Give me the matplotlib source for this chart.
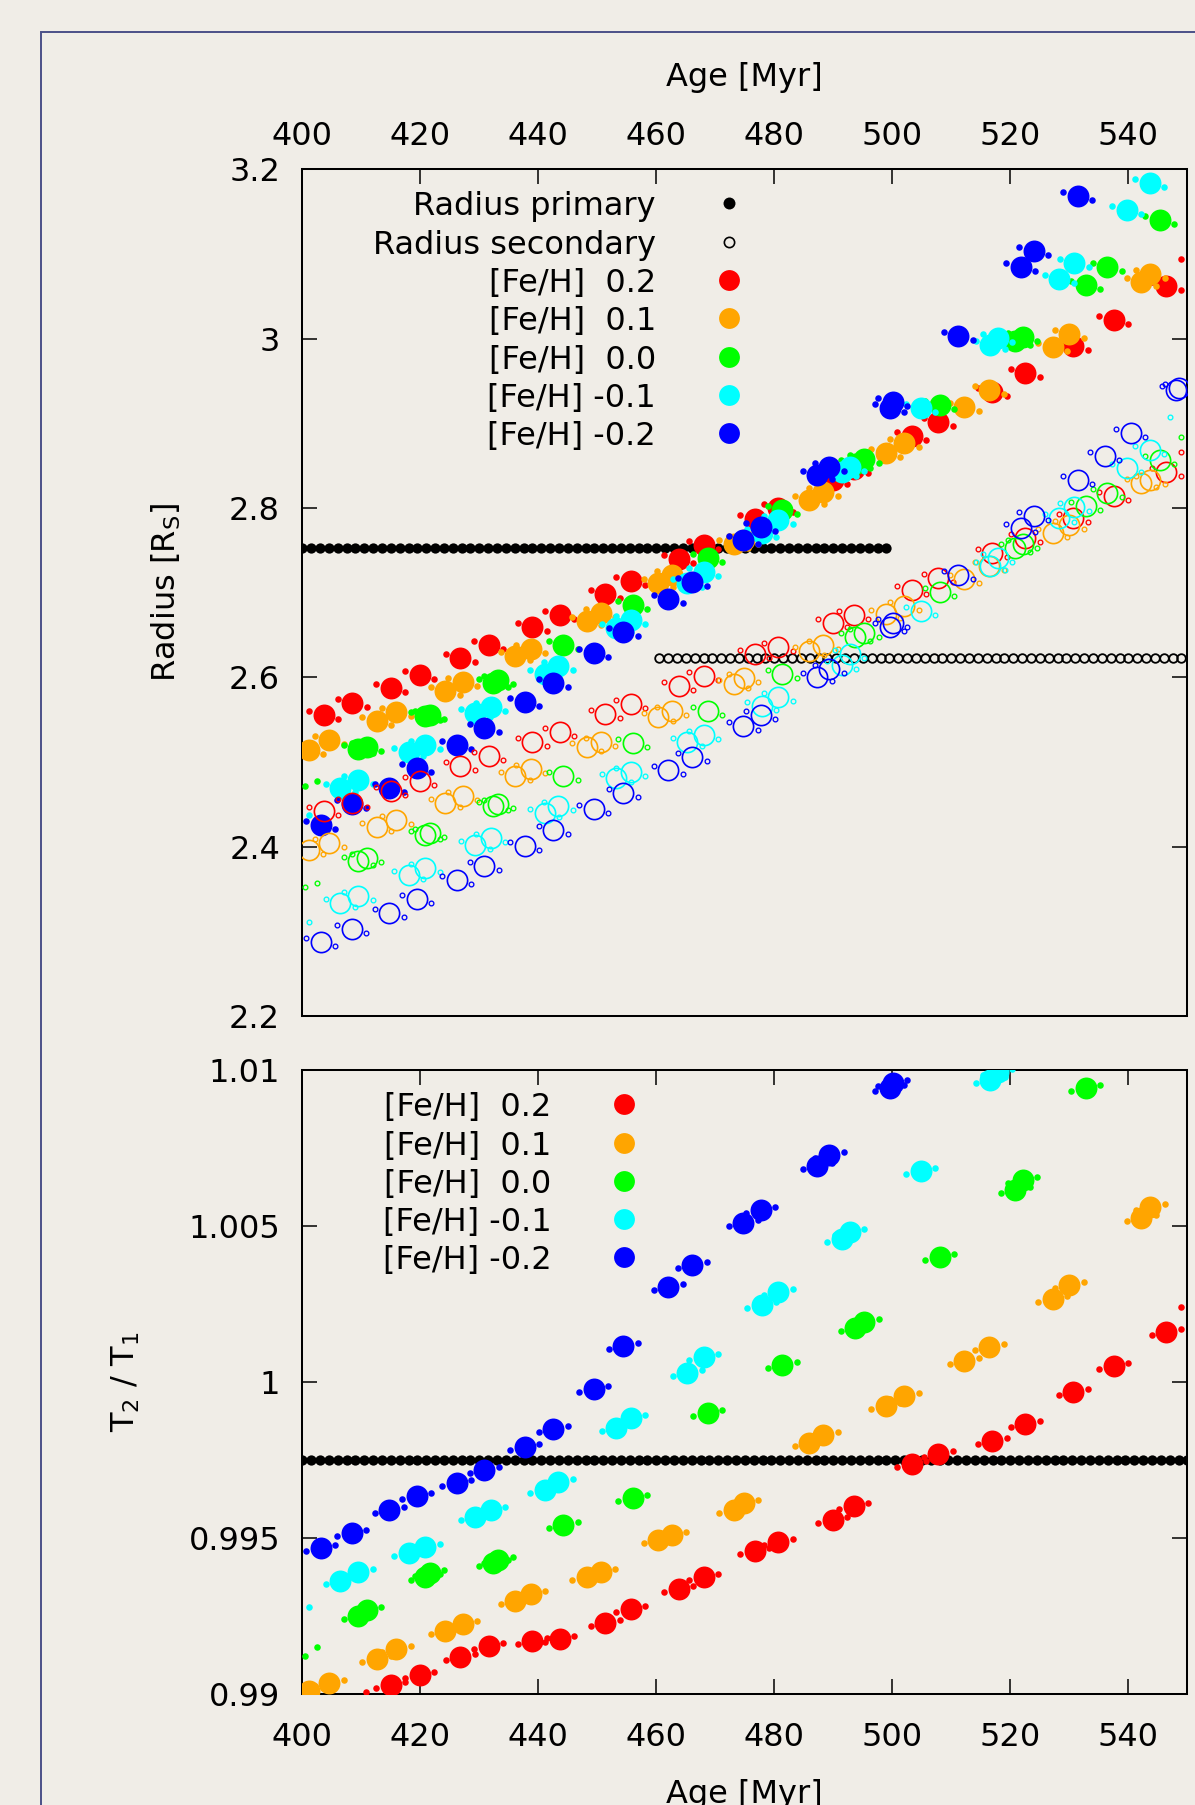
import numpy as np
import matplotlib.pyplot as plt
from matplotlib.patches import Rectangle
from matplotlib.transforms import ScaledTranslation

plt.rcParams['font.family'] = ['DejaVu Sans']
plt.rcParams['mathtext.fontset'] = 'dejavusans'

BG = '#f0ede7'
DPI = 100

# ---------------------------------------------------------------- data
feh_labels = ['[Fe/H]  0.2', '[Fe/H]  0.1', '[Fe/H]  0.0', '[Fe/H] -0.1', '[Fe/H] -0.2']
feh_colors = ['#ff0000', '#ffa500', '#00ff00', '#00ffff', '#0000ff']
nan = np.nan

# [Fe/H] = 0.2
age_p02 = [403.6, 408.5, 415.0, 419.9, 426.8, 431.6, 439.0, 443.6, 451.3, 455.7, 463.8, 468.0,
           476.7, 480.7, 489.9, 493.5, 503.3, 507.8, 516.9, 522.5, 530.7, 537.5, 546.4]
r1_p02 = [2.556, 2.570, 2.588, 2.603, 2.623, 2.638, 2.660, 2.674, 2.699, 2.714, 2.740, 2.756,
          2.787, 2.800, 2.833, 2.846, 2.885, 2.901, 2.937, 2.959, 2.991, 3.022, 3.062]
r2_p02 = [2.442, 2.452, 2.466, 2.477, 2.495, 2.507, 2.524, 2.536, 2.557, 2.569, 2.590, 2.601,
          2.627, 2.636, 2.664, 2.674, 2.703, 2.717, 2.747, 2.764, 2.788, 2.814, 2.843]
tr_p02 = [nan, nan, 0.99029, 0.99061, 0.99119, 0.99153, 0.99171, 0.99175, 0.99229, 0.99272,
          0.99338, 0.99376, 0.99459, 0.99488, 0.99558, 0.99603, 0.99736, 0.99769, 0.99812,
          0.99866, 0.99969, 1.00051, 1.00161]

# [Fe/H] = 0.1
age_p01 = [401.1, 404.6, 412.6, 415.9, 424.2, 427.2, 436.1, 438.7, 448.2, 450.6, 460.3, 462.6,
           473.1, 474.8, 485.9, 488.3, 498.9, 502.0, 512.2, 516.4, 527.2, 530.0, 542.2, 543.7]
r1_p01 = [2.514, 2.526, 2.549, 2.559, 2.584, 2.594, 2.625, 2.633, 2.666, 2.676, 2.712, 2.721,
          2.758, 2.762, 2.810, 2.819, 2.865, 2.877, 2.919, 2.939, 2.990, 3.006, 3.067, 3.076]
r2_p01 = [2.396, 2.404, 2.423, 2.431, 2.452, 2.460, 2.484, 2.492, 2.518, 2.524, 2.553, 2.560,
          2.592, 2.599, 2.631, 2.638, 2.675, 2.684, 2.716, 2.731, 2.770, 2.780, 2.829, 2.833]
tr_p01 = [0.99010, 0.99034, 0.99111, 0.99143, 0.99203, 0.99224, 0.99298, 0.99321, 0.99376,
          0.99392, 0.99494, 0.99510, 0.99590, 0.99611, 0.99806, 0.99830, 0.99923, 0.99955,
          1.00068, 1.00113, 1.00265, 1.00311, 1.00525, 1.00560]

# [Fe/H] = 0.0
age_00 = [409.5, 410.9, 420.8, 421.6, 432.4, 433.2, 444.2, 456.0, 468.7, 481.3, 493.7, 495.2,
          508.0, 520.8, 522.1, 532.8, 536.4, 545.3]
r1_00 = [2.515, 2.518, 2.554, 2.556, 2.593, 2.597, 2.638, 2.686, 2.741, 2.798, 2.852, 2.858,
         2.922, 2.997, 3.002, 3.063, 3.085, 3.140]
r2_00 = [2.383, 2.387, 2.414, 2.416, 2.448, 2.450, 2.483, 2.522, 2.560, 2.604, 2.648, 2.652,
         2.701, 2.753, 2.758, 2.802, 2.818, 2.857]
tr_00 = [0.99250, 0.99269, 0.99376, 0.99387, 0.99419, 0.99430, 0.99542, 0.99627, 0.99900,
         1.00054, 1.00172, 1.00193, 1.00402, 1.00615, 1.00647, 1.00943, nan, nan]

# [Fe/H] = -0.1
age_m01 = [406.4, 409.5, 418.0, 420.8, 429.3, 431.9, 441.1, 443.4, 453.2, 455.7, 465.2, 468.0,
           477.9, 480.7, 491.4, 492.8, 504.8, 516.6, 517.9, 528.3, 530.8, 539.7, 543.6]
r1_m01 = [2.469, 2.479, 2.512, 2.520, 2.558, 2.565, 2.604, 2.613, 2.658, 2.668, 2.711, 2.725,
          2.770, 2.786, 2.843, 2.849, 2.918, 2.993, 3.001, 3.071, 3.089, 3.152, 3.184]
r2_m01 = [2.333, 2.342, 2.366, 2.375, 2.402, 2.410, 2.440, 2.448, 2.481, 2.488, 2.524, 2.532,
          2.566, 2.577, 2.615, 2.627, 2.678, 2.731, 2.741, 2.788, 2.801, 2.847, 2.869]
tr_m01 = [0.99362, 0.99392, 0.99451, 0.99472, 0.99568, 0.99590, 0.99654, 0.99680, 0.99852,
          0.99884, 1.00030, 1.00081, 1.00247, 1.00290, 1.00457, 1.00482, 1.00677, 1.00968,
          1.00995, nan, nan, nan, nan]

# [Fe/H] = -0.2
age_m02 = [403.1, 408.4, 414.7, 419.4, 426.2, 430.8, 437.7, 442.5, 449.4, 454.4, 462.0, 466.1,
           474.7, 477.7, 487.3, 489.3, 499.6, 500.1, 511.2, 521.8, 524.0, 531.4, 536.0, 540.4,
           548.1, 548.6]
r1_m02 = [2.426, 2.450, 2.469, 2.493, 2.520, 2.540, 2.571, 2.593, 2.629, 2.654, 2.692, 2.713,
          2.762, 2.778, 2.839, 2.849, 2.918, 2.925, 3.003, 3.085, 3.104, 3.168, nan, nan,
          nan, nan]
r2_m02 = [2.287, 2.303, 2.322, 2.338, 2.361, 2.377, 2.401, 2.420, 2.445, 2.463, 2.490, 2.506,
          2.543, 2.556, 2.600, 2.610, 2.660, 2.664, 2.721, 2.776, 2.790, 2.833, 2.862, 2.888,
          2.939, 2.942]
tr_m02 = [0.99467, 0.99517, 0.99590, 0.99635, 0.99677, 0.99718, 0.99793, 0.99848, 0.99977,
          1.00115, 1.00305, 1.00375, 1.00509, 1.00551, 1.00692, 1.00728, 1.00941, 1.00957,
          nan, nan, nan, nan, nan, nan, nan, nan]

ages = [age_p02, age_p01, age_00, age_m01, age_m02]
r1 = [r1_p02, r1_p01, r1_00, r1_m01, r1_m02]
r2 = [r2_p02, r2_p01, r2_00, r2_m01, r2_m02]
tr = [tr_p02, tr_p01, tr_00, tr_m01, tr_m02]

# lone neighbour models whose best model falls outside the frame
stray_age_r1 = [400.5, 402.5, 401.1, 549.0]
stray_val_r1 = [2.472, 2.478, 2.437, 3.094]
stray_feh_r1 = [2, 2, 3, 0]
stray_age_r2 = [400.5, 402.5, 401.1, 549.0, 549.0, 547.1]
stray_val_r2 = [2.352, 2.357, 2.311, 2.866, 2.884, 2.908]
stray_feh_r2 = [2, 2, 3, 0, 2, 3]
stray_age_tr = [400.5, 402.5, 401.1, 410.8, 549.0]
stray_val_tr = [0.99123, 0.99150, 0.99278, 0.99006, 1.00241]
stray_feh_tr = [2, 2, 3, 0, 0]

# observed values
r1_obs = 2.7525
r1_obs_age = np.arange(400.0, 499.5, 1.5)
r2_obs = 2.6227
r2_obs_age = np.arange(460.5, 551.0, 1.5)
tr_obs = 0.9975
tr_obs_age = np.arange(400.0, 551.0, 1.5)

# ---------------------------------------------------------------- figure
fig = plt.figure(figsize=(11.95, 18.05), dpi=DPI, facecolor=BG)
fig.add_artist(Rectangle((0.0343, -0.1), 1.2, 1.0823, transform=fig.transFigure,
                         fill=False, edgecolor='#4b5088', lw=1.4))

ax1 = fig.add_axes([0.2530, 0.4371, 0.7406, 0.4691], facecolor=BG)
ax2 = fig.add_axes([0.2530, 0.0615, 0.7406, 0.3457], facecolor=BG)


def shifted(ax, dx, dy):
    # neighbouring models are drawn as small dots beside each best model
    return ax.transData + ScaledTranslation(dx / DPI, dy / DPI, fig.dpi_scale_trans)


def models(ax, x, y, col, tilt, hollow=False, z=3):
    x = np.asarray(x)
    y = np.asarray(y, dtype=float)
    if hollow:
        big = dict(marker='o', ms=14.6, mfc='none', mec=col, mew=1.2)
        small = dict(marker='o', ms=3.4, mfc='none', mec=col, mew=0.95)
    else:
        big = dict(marker='o', ms=15.8, mfc=col, mec=col, mew=0)
        small = dict(marker='o', ms=4.7, mfc=col, mec=col, mew=0)
    for sx in (-1, 1):
        ax.plot(x, y, ls='none', transform=shifted(ax, 14.5 * sx, -tilt * sx), zorder=z, **small)
    ax.plot(x, y, ls='none', zorder=z, **big)


# upper panel: radii
ax1.plot(r1_obs_age, np.full(len(r1_obs_age), r1_obs), 'o', color='black', ms=7.4, mew=0, zorder=2)
ax1.plot(r2_obs_age, np.full(len(r2_obs_age), r2_obs), 'o', mfc='none', mec='black',
         ms=6.2, mew=1.3, zorder=2)
for i in range(5):
    models(ax1, ages[i], r1[i], feh_colors[i], 4, z=3)
for i in range(5):
    models(ax1, ages[i], r2[i], feh_colors[i], 4, hollow=True, z=4)
for a, v, k in zip(stray_age_r1, stray_val_r1, stray_feh_r1):
    ax1.plot(a, v, 'o', color=feh_colors[k], ms=4.7, mew=0, zorder=3)
for a, v, k in zip(stray_age_r2, stray_val_r2, stray_feh_r2):
    ax1.plot(a, v, 'o', mfc='none', mec=feh_colors[k], ms=3.4, mew=0.95, zorder=4)

# lower panel: temperature ratio
ax2.plot(tr_obs_age, np.full(len(tr_obs_age), tr_obs), 'o', color='black', ms=7.4, mew=0, zorder=2)
for i in range(5):
    models(ax2, ages[i], tr[i], feh_colors[i], -3, z=3)
for a, v, k in zip(stray_age_tr, stray_val_tr, stray_feh_tr):
    ax2.plot(a, v, 'o', color=feh_colors[k], ms=4.7, mew=0, zorder=3)

# ---------------------------------------------------------------- axes cosmetics
FS = 23
for ax in (ax1, ax2):
    ax.set_xlim(400, 550)
    ax.set_xticks(np.arange(400, 541, 20))
    for sp in ax.spines.values():
        sp.set_linewidth(1.45)
    ax.tick_params(which='both', direction='in', length=10.8, width=1.1, labelsize=FS,
                   left=True, right=True)
    ax.tick_params(axis='y', pad=16)

ax1.set_ylim(2.2, 3.2)
ax1.set_yticks([2.2, 2.4, 2.6, 2.8, 3.0, 3.2])
ax1.set_yticklabels(['2.2', '2.4', '2.6', '2.8', '3', '3.2'])
ax1.tick_params(axis='x', top=True, bottom=False, labeltop=True, labelbottom=False, pad=12.7)

ax2.set_ylim(0.99, 1.01)
ax2.set_yticks([0.99, 0.995, 1.0, 1.005, 1.01])
ax2.set_yticklabels(['0.99', '0.995', '1', '1.005', '1.01'])
ax2.tick_params(axis='x', top=True, bottom=True, pad=20.2)

fig.text(0.6233, 0.9521, 'Age [Myr]', ha='center', va='baseline', fontsize=FS)
fig.text(0.6233, 0.0011, 'Age [Myr]', ha='center', va='baseline', fontsize=FS)
fig.text(0.1389, 0.6717, r'Radius [R$_\mathregular{S}$]', rotation=90,
         ha='center', va='center', fontsize=FS)
fig.text(0.1054, 0.2346, r'T$_\mathregular{2}$ / T$_\mathregular{1}$', rotation=90,
         ha='center', va='center', fontsize=FS)

# keys
row = 0.9599
for lab, mk in [('Radius primary', 'fill'), ('Radius secondary', 'open')] + \
        [(l, c) for l, c in zip(feh_labels, feh_colors)]:
    ax1.text(0.3997, row - 0.0142, lab, transform=ax1.transAxes, ha='right',
             va='baseline', fontsize=FS)
    if mk == 'fill':
        ax1.plot(0.4818, row, 'o', color='black', ms=8.6, mew=0, transform=ax1.transAxes,
                 clip_on=False)
    elif mk == 'open':
        ax1.plot(0.4818, row, 'o', mfc='none', mec='black', ms=7.4, mew=1.2,
                 transform=ax1.transAxes, clip_on=False)
    else:
        ax1.plot(0.4818, row, 'o', color=mk, ms=15, mew=0, transform=ax1.transAxes,
                 clip_on=False)
    row -= 0.04527

row = 0.9451
for lab, c in zip(feh_labels, feh_colors):
    ax2.text(0.2818, row - 0.0192, lab, transform=ax2.transAxes, ha='right',
             va='baseline', fontsize=FS)
    ax2.plot(0.3635, row, 'o', color=c, ms=15, mew=0, transform=ax2.transAxes, clip_on=False)
    row -= 0.06133

fig.savefig('out.png', dpi=DPI, facecolor=BG)
